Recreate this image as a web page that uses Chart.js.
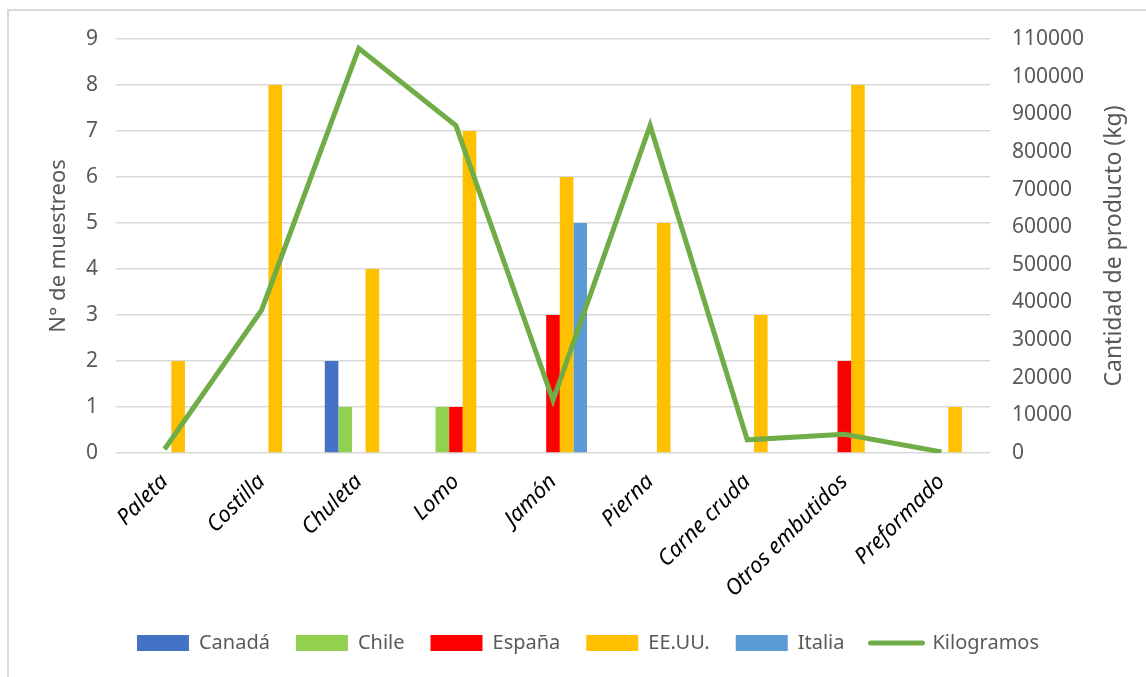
<!DOCTYPE html>
<html lang="es">
<head>
<meta charset="utf-8">
<title>Muestreos por producto y país</title>
<script src="https://cdn.jsdelivr.net/npm/chart.js@4.4.1/dist/chart.umd.min.js"></script>
<style>
    html, body { margin: 0; padding: 0; background: #fff; overflow: hidden; }
    .frame {
        position: absolute; left: 7px; top: 9px; right: -20px; bottom: -20px;
        border: 2px solid #d9d9d9;
    }
    .wrap { position: absolute; left: 0; top: 0; width: 1146px; height: 677px; }
</style>
</head>
<body>
<div class="frame"></div>
<div class="wrap"><canvas id="muestreosChart" width="1146" height="677"></canvas></div>
<script>
// Categorías de producto
const productos = ['Paleta', 'Costilla', 'Chuleta', 'Lomo', 'Jamón', 'Pierna', 'Carne cruda', 'Otros embutidos', 'Preformado'];

// Nº de muestreos por país de origen
const canada = [0, 0, 2, 0, 0, 0, 0, 0, 0];
const chile = [0, 0, 1, 1, 0, 0, 0, 0, 0];
const espana = [0, 0, 0, 1, 3, 0, 0, 2, 0];
const eeuu = [2, 8, 4, 7, 6, 5, 3, 8, 1];
const italia = [0, 0, 0, 0, 5, 0, 0, 0, 0];

// Cantidad de producto (kg)
const kilogramos = [1000, 38000, 107500, 87000, 14000, 87000, 3500, 5000, 300];

const gris = '#595959';
const fuente = "'Noto Sans', 'Open Sans', sans-serif";

function barra(label, data, color) {
    return {
        type: 'bar',
        label: label,
        data: data,
        backgroundColor: color,
        borderWidth: 0,
        yAxisID: 'y',
        order: 1,
        pointStyle: 'rect'
    };
}

// Título del eje derecho, leído de abajo hacia arriba
const tituloDerecho = {
    id: 'tituloDerecho',
    afterDraw(chart) {
        const ctx = chart.ctx;
        const area = chart.chartArea;
        ctx.save();
        ctx.translate(1114, (area.top + area.bottom) / 2);
        ctx.rotate(-Math.PI / 2);
        ctx.font = '23px ' + fuente;
        ctx.fillStyle = gris;
        ctx.textAlign = 'center';
        ctx.textBaseline = 'middle';
        ctx.fillText('Cantidad de producto (kg)', 0, 0);
        ctx.restore();
    }
};

const ctx = document.getElementById('muestreosChart').getContext('2d');
const chart = new Chart(ctx, {
    data: {
        labels: productos,
        datasets: [
            barra('Canadá', canada, '#4472C4'),
            barra('Chile', chile, '#92D050'),
            barra('España', espana, '#FF0000'),
            barra('EE.UU.', eeuu, '#FFC000'),
            barra('Italia', italia, '#5B9BD5'),
            {
                type: 'line',
                label: 'Kilogramos',
                data: kilogramos,
                borderColor: '#70AD47',
                backgroundColor: '#70AD47',
                borderWidth: 5,
                pointRadius: 0,
                pointHoverRadius: 0,
                tension: 0,
                yAxisID: 'y1',
                order: 0,
                pointStyle: 'line'
            }
        ]
    },
    options: {
        responsive: false,
        animation: false,
        devicePixelRatio: 1,
        layout: { padding: { left: 40, right: 10, top: 39, bottom: 14 } },
        datasets: {
            bar: { categoryPercentage: 0.7, barPercentage: 1.0 }
        },
        plugins: {
            tooltip: { enabled: false },
            legend: {
                position: 'bottom',
                labels: {
                    usePointStyle: true,
                    pointStyleWidth: 52,
                    boxHeight: 16,
                    padding: 26,
                    color: gris,
                    font: { family: fuente, size: 20 },
                    sort: (a, b) => a.datasetIndex - b.datasetIndex,
                    generateLabels(chart) {
                        const items = Chart.defaults.plugins.legend.labels.generateLabels(chart);
                        items.forEach(item => {
                            const ds = chart.data.datasets[item.datasetIndex];
                            item.pointStyle = ds.type === 'line' ? 'line' : 'rect';
                            if (ds.type === 'line') {
                                item.lineWidth = 5;
                                item.lineCap = 'round';
                            } else {
                                item.lineWidth = 0;
                            }
                        });
                        return items;
                    }
                }
            }
        },
        scales: {
            x: {
                grid: { display: false },
                border: { display: false },
                ticks: {
                    minRotation: 45,
                    maxRotation: 45,
                    color: '#000',
                    padding: 8,
                    font: { family: fuente, size: 22, style: 'italic' }
                },
                afterFit(scale) { scale.height = 154; }
            },
            y: {
                position: 'left',
                min: 0,
                max: 9,
                ticks: {
                    stepSize: 1,
                    color: gris,
                    padding: 18,
                    font: { family: fuente, size: 21 }
                },
                grid: { color: '#D9D9D9', lineWidth: 1.5, drawTicks: false },
                border: { display: false },
                title: {
                    display: true,
                    text: 'N° de muestreos',
                    color: gris,
                    font: { family: fuente, size: 22 },
                    padding: { top: 6, bottom: 0 }
                },
                afterFit(scale) { scale.width = 76; }
            },
            y1: {
                position: 'right',
                min: 0,
                max: 110000,
                ticks: {
                    stepSize: 10000,
                    color: gris,
                    padding: 22,
                    font: { family: fuente, size: 21 },
                    callback: v => String(v)
                },
                grid: { display: false, drawTicks: false },
                border: { display: false },
                afterFit(scale) { scale.width = 146; }
            }
        }
    },
    plugins: [tituloDerecho]
});
</script>
</body>
</html>
